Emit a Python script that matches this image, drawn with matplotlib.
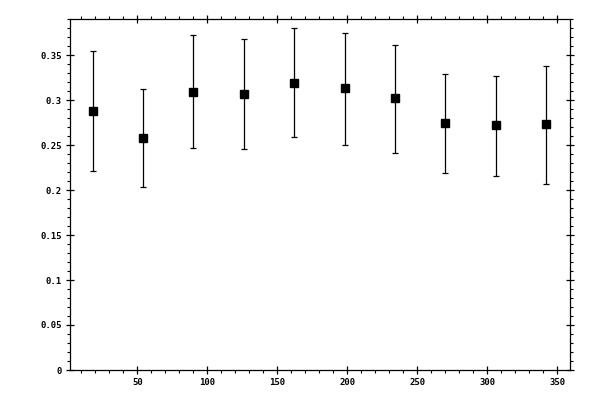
import numpy as np
import matplotlib
matplotlib.use('Agg')
import matplotlib.pyplot as plt
from matplotlib.ticker import MultipleLocator, FormatStrFormatter

x_vals = [18, 54, 90, 126, 162, 198, 234, 270, 306, 342]
y_vals = [0.288, 0.258, 0.309, 0.307, 0.319, 0.313, 0.302, 0.275, 0.272, 0.273]
y_low = [0.2215, 0.2038, 0.2471, 0.2460, 0.2586, 0.2504, 0.2416, 0.2193, 0.2160, 0.2071]
y_high = [0.3544, 0.3122, 0.3727, 0.3678, 0.3800, 0.3744, 0.3616, 0.3293, 0.3266, 0.3377]

x_major = [50, 100, 150, 200, 250, 300, 350]
y_major = [0, 0.05, 0.1, 0.15, 0.2, 0.25, 0.3, 0.35]

y = np.array(y_vals)
yerr = [y - np.array(y_low), np.array(y_high) - y]

fig = plt.figure(figsize=(6, 4), dpi=100)
ax = fig.add_axes([0.116, 0.075, 0.834, 0.8775])

ax.errorbar(x_vals, y_vals, yerr=yerr, fmt='s', color='black', ms=5.2,
            elinewidth=0.9, capsize=2.0, capthick=0.9)

ax.set_xlim(1.6, 359)
ax.set_ylim(0, 0.39)
ax.set_xticks(x_major)
ax.set_yticks(y_major)
ax.xaxis.set_minor_locator(MultipleLocator(10))
ax.yaxis.set_minor_locator(MultipleLocator(0.01))
ax.yaxis.set_major_formatter(FormatStrFormatter('%g'))

for s in ax.spines.values():
    s.set_linewidth(0.9)

ax.tick_params(which='major', direction='inout', length=6, width=0.9,
               top=True, right=True, labelsize=6.5, pad=2.5)
ax.tick_params(which='minor', direction='out', length=2.5, width=0.8,
               top=True, right=True)
for lab in ax.get_xticklabels() + ax.get_yticklabels():
    lab.set_family('DejaVu Sans Mono')
    lab.set_weight('bold')

fig.savefig('out.png', dpi=100)
